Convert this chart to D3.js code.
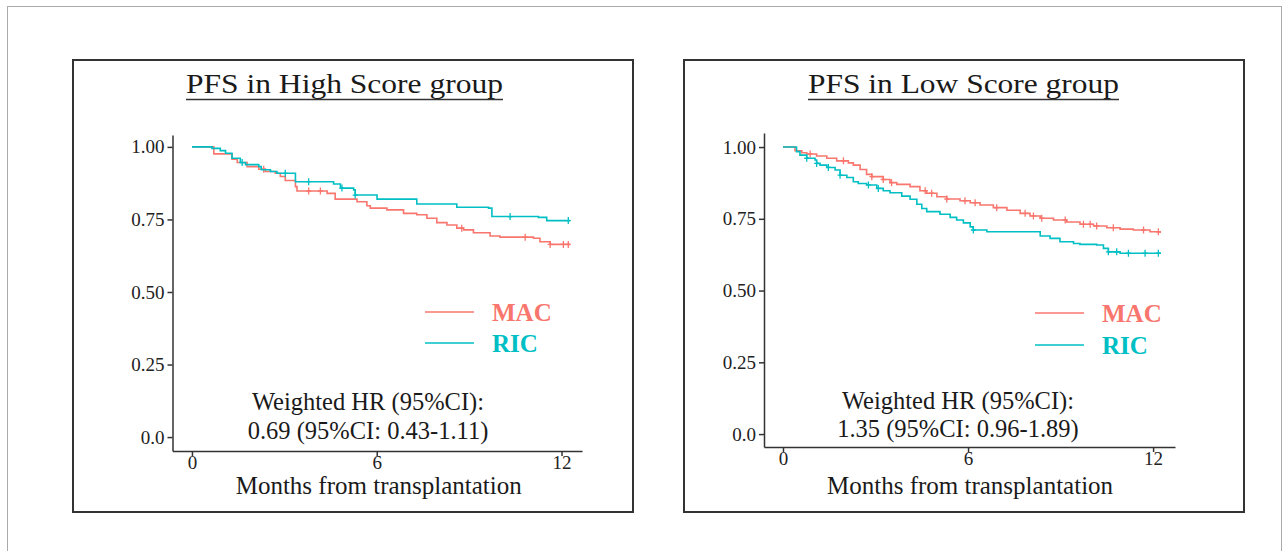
<!DOCTYPE html>
<html>
<head>
<meta charset="utf-8">
<script src="https://cdn.jsdelivr.net/npm/d3@7"></script>
<style>
  body { margin: 0; background: #fff; }
  text { font-family: "Liberation Serif", "Times New Roman", serif; }
</style>
</head>
<body>
<div id="chart"></div>
<script>
// ---- data ----
var groups = ["MAC", "RIC"];
var colors = ["#F8766D", "#00BFC4"];
var xTicks = [0, 6, 12];
var yTicks = [0, 0.25, 0.5, 0.75, 1];
var yTickLabels = ["0.0", "0.25", "0.50", "0.75", "1.00"];
var titles = ["PFS in High Score group", "PFS in Low Score group"];
var hrLines = [
  ["Weighted HR (95%CI):", "0.69 (95%CI: 0.43-1.11)"],
  ["Weighted HR (95%CI):", "1.35 (95%CI: 0.96-1.89)"]
];

// High score group
var highMacMonths = [0, 0.71, 1.30, 1.47, 1.79, 2.17, 2.38, 2.71, 2.87, 3.03, 3.36, 3.41, 4.39, 4.65, 5.36, 5.68, 5.79, 6.33, 6.87, 7.30, 7.63, 7.95, 8.28, 8.60, 8.82, 9.14, 9.68, 10.00, 11.09, 11.30, 11.63, 12.28];
var highMacSurv   = [1, 0.976, 0.958, 0.946, 0.932, 0.923, 0.915, 0.909, 0.898, 0.884, 0.863, 0.848, 0.840, 0.820, 0.811, 0.797, 0.789, 0.783, 0.771, 0.766, 0.754, 0.739, 0.731, 0.720, 0.714, 0.704, 0.693, 0.689, 0.685, 0.673, 0.664, 0.664];
var highMacCensor = [2.33, 3.79, 4.17, 8.76, 10.82, 11.63, 12.06, 12.22];

var highRicMonths = [0, 0.65, 0.92, 1.09, 1.30, 1.57, 1.74, 2.17, 2.25, 2.55, 2.76, 3.36, 4.60, 4.82, 5.25, 5.30, 6.01, 7.30, 8.60, 9.63, 9.74, 11.25, 11.52, 12.28];
var highRicSurv   = [1, 0.995, 0.987, 0.978, 0.961, 0.946, 0.939, 0.932, 0.921, 0.915, 0.909, 0.880, 0.872, 0.858, 0.852, 0.834, 0.820, 0.803, 0.792, 0.789, 0.760, 0.757, 0.746, 0.746];
var highRicCensor = [1.63, 3.03, 3.79, 4.87, 5.30, 10.33, 12.22];

// Low score group
var lowMacMonths = [0, 0.39, 0.61, 0.77, 1.09, 1.42, 1.74, 2.12, 2.28, 2.50, 2.71, 2.88, 3.25, 3.47, 3.69, 4.12, 4.44, 4.66, 4.99, 5.31, 5.74, 6.07, 6.39, 6.82, 7.26, 7.69, 8.01, 8.34, 8.77, 9.20, 9.63, 10.07, 10.50, 10.93, 11.36, 11.90, 12.23];
var lowMacSurv   = [1, 0.987, 0.980, 0.976, 0.969, 0.961, 0.952, 0.945, 0.937, 0.922, 0.905, 0.897, 0.887, 0.876, 0.870, 0.862, 0.848, 0.839, 0.827, 0.819, 0.813, 0.806, 0.798, 0.789, 0.780, 0.769, 0.760, 0.752, 0.746, 0.739, 0.731, 0.725, 0.719, 0.714, 0.711, 0.705, 0.701];
var lowMacCensor = [0.88, 1.96, 2.88, 3.25, 3.52, 4.61, 4.82, 5.31, 5.90, 6.23, 6.93, 7.85, 8.12, 8.39, 9.15, 9.74, 9.96, 10.17, 10.71, 11.69, 12.17];

var lowRicMonths = [0, 0.44, 0.55, 0.77, 1.04, 1.09, 1.20, 1.42, 1.69, 1.85, 2.07, 2.28, 2.44, 2.71, 3.04, 3.25, 3.47, 3.85, 4.12, 4.34, 4.50, 4.66, 5.09, 5.42, 5.63, 5.85, 6.07, 6.17, 6.61, 8.34, 8.66, 8.98, 9.42, 9.63, 10.17, 10.39, 10.55, 10.93, 12.23];
var lowRicSurv   = [1, 0.984, 0.972, 0.961, 0.955, 0.943, 0.937, 0.929, 0.920, 0.902, 0.894, 0.879, 0.873, 0.868, 0.856, 0.848, 0.841, 0.829, 0.818, 0.801, 0.786, 0.775, 0.766, 0.755, 0.746, 0.736, 0.722, 0.711, 0.705, 0.690, 0.682, 0.670, 0.664, 0.661, 0.659, 0.647, 0.635, 0.630, 0.627];
var lowRicCensor = [0.77, 1.09, 1.47, 1.85, 2.77, 3.09, 6.17, 10.55, 10.82, 11.20, 11.74, 12.17];

// ---- layout ----
var panels = [
  { box: [73, 60, 633, 512], titleX: 344.5, titleW: 317,
    xDomain: [-0.632, 12.665], xRange: [172.5, 582],
    yDomain: [-0.048, 1.041], yRange: [451, 135],
    legX: 425, legY: [312, 343], hrX: 368, hrY: [410, 438.5],
    series: [[highMacMonths, highMacSurv, highMacCensor], [highRicMonths, highRicSurv, highRicCensor]] },
  { box: [684, 60, 1244, 512], titleX: 963.5, titleW: 311,
    xDomain: [-0.616, 12.71], xRange: [764, 1175],
    yDomain: [-0.045, 1.049], yRange: [447, 133],
    legX: 1035, legY: [313, 345], hrX: 958, hrY: [408.5, 437],
    series: [[lowMacMonths, lowMacSurv, lowMacCensor], [lowRicMonths, lowRicSurv, lowRicCensor]] }
];

var svg = d3.select("#chart")
  .append("svg")
    .attr("width", 1288)
    .attr("height", 551);

svg.append("rect")
  .attr("width", 1288).attr("height", 551)
  .attr("fill", "#fff");

// outer thin frame
svg.append("rect")
  .attr("x", 7.5).attr("y", 6.5)
  .attr("width", 1274).attr("height", 545)
  .attr("fill", "none")
  .attr("stroke", "#aaa")
  .attr("stroke-width", 1);

panels.forEach(function(p, pi) {
  var g = svg.append("g");

  // panel box
  g.append("rect")
    .attr("x", p.box[0]).attr("y", p.box[1])
    .attr("width", p.box[2] - p.box[0]).attr("height", p.box[3] - p.box[1])
    .attr("fill", "none")
    .attr("stroke", "#333")
    .attr("stroke-width", 2);

  // title, underlined
  g.append("text")
    .attr("x", p.titleX).attr("y", 93)
    .attr("text-anchor", "middle")
    .attr("font-size", 28)
    .attr("textLength", p.titleW)
    .attr("lengthAdjust", "spacingAndGlyphs")
    .attr("fill", "#1a1a1a")
    .text(titles[pi]);
  g.append("line")
    .attr("x1", p.titleX - p.titleW / 2).attr("x2", p.titleX + p.titleW / 2)
    .attr("y1", 99.5).attr("y2", 99.5)
    .attr("stroke", "#333").attr("stroke-width", 1.6);

  var x = d3.scaleLinear().domain(p.xDomain).range(p.xRange);
  var y = d3.scaleLinear().domain(p.yDomain).range(p.yRange);

  // X axis
  var xa = g.append("g")
    .attr("transform", "translate(0," + p.yRange[0] + ")")
    .call(d3.axisBottom(x).tickValues(xTicks).tickSize(5).tickSizeOuter(0));
  xa.selectAll("text").attr("y", 5);
  // Y axis
  var ya = g.append("g")
    .attr("transform", "translate(" + p.xRange[0] + ",0)")
    .call(d3.axisLeft(y).tickValues(yTicks).tickSize(5).tickSizeOuter(0)
      .tickFormat(function(d, i) { return yTickLabels[i]; }));

  [xa, ya].forEach(function(a) {
    a.attr("font-family", null).attr("font-size", 19);
    a.selectAll("path, line").attr("stroke", "#333").attr("stroke-width", 1.5);
    a.selectAll("text").attr("fill", "#222");
  });

  g.append("text")
    .attr("x", x(6) + 2).attr("y", 494)
    .attr("text-anchor", "middle")
    .attr("font-size", 25)
    .attr("fill", "#1a1a1a")
    .text("Months from transplantation");

  // survival curves
  var line = d3.line()
    .curve(d3.curveStepAfter)
    .x(function(d) { return x(d[0]); })
    .y(function(d) { return y(d[1]); });

  p.series.forEach(function(s, si) {
    var pts = d3.zip(s[0], s[1]);
    g.append("path")
      .datum(pts)
      .attr("d", line)
      .attr("fill", "none")
      .attr("stroke", colors[si])
      .attr("stroke-width", 1.6);

    var bis = d3.bisector(function(d) { return d[0]; }).right;
    g.append("g")
      .selectAll("path")
      .data(s[2])
      .enter()
      .append("path")
        .attr("transform", function(t) {
          var k = Math.max(0, bis(pts, t) - 1);
          return "translate(" + x(t) + "," + y(pts[k][1]) + ")";
        })
        .attr("d", "M0,-3.5V3.5M-2.5,0H2.5")
        .attr("stroke", colors[si])
        .attr("stroke-width", 1.3);
  });

  // legend
  groups.forEach(function(name, i) {
    g.append("line")
      .attr("x1", p.legX).attr("x2", p.legX + 49)
      .attr("y1", p.legY[i]).attr("y2", p.legY[i])
      .attr("stroke", colors[i]).attr("stroke-width", 1.5);
    g.append("text")
      .attr("x", p.legX + 67).attr("y", p.legY[i] + 9)
      .attr("font-size", 25)
      .attr("font-weight", "bold")
      .attr("fill", colors[i])
      .text(name);
  });

  // HR annotation
  hrLines[pi].forEach(function(t, i) {
    g.append("text")
      .attr("x", p.hrX).attr("y", p.hrY[i])
      .attr("text-anchor", "middle")
      .attr("font-size", 24.5)
      .attr("fill", "#1a1a1a")
      .text(t);
  });
});
</script>
</body>
</html>
